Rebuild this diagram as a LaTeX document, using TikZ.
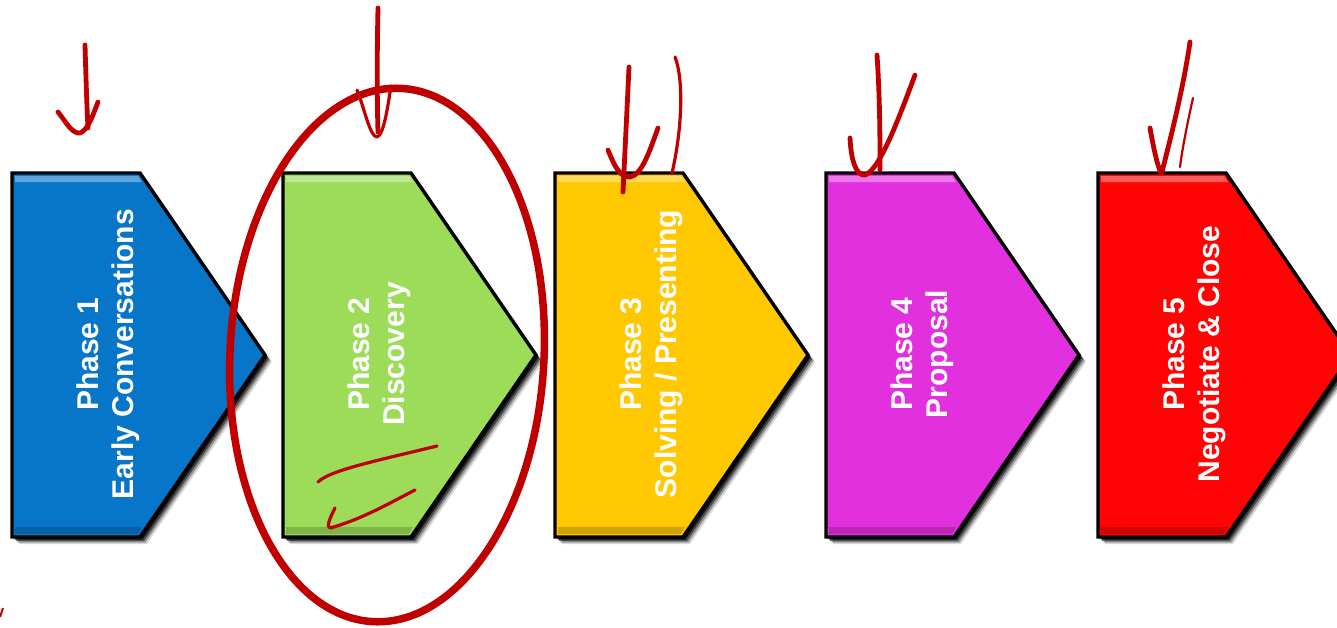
\documentclass[tikz,border=0pt]{standalone}
\usepackage{fontspec}
\setmainfont{Liberation Sans}

\definecolor{pblue}{RGB}{8,118,200}
\definecolor{pgreen}{RGB}{156,220,88}
\definecolor{pyellow}{RGB}{255,200,0}
\definecolor{pmagenta}{RGB}{226,48,222}
\definecolor{pred}{RGB}{255,4,4}
\definecolor{inkred}{RGB}{192,0,0}

% one chevron: #1 left x, #2 fill colour, #3 node name, #4 label
\newcommand\phasechevron[4]{%
  % soft drop shadow
  \foreach \d/\o in {7/0.15,5.5/0.3,4/0.5,2.5/0.75}{%
    \fill[black, opacity=\o, shift={(\d,\d)}]
      (#1,173) -- (#1+128,173) -- (#1+253,355) -- (#1+128,537) -- (#1,537) -- cycle;
  }
  \fill[#2] (#1,173) -- (#1+128,173) -- (#1+253,355) -- (#1+128,537) -- (#1,537) -- cycle;
  % bevel: light top rim, darker bottom rim
  \fill[white, opacity=0.35] (#1+3,176) -- (#1+126,176) -- (#1+130,182) -- (#1+3,182) -- cycle;
  \fill[black, opacity=0.18] (#1+3,527) -- (#1+130,527) -- (#1+126,534) -- (#1+3,534) -- cycle;
  \draw[chevronedge] (#1,173) -- (#1+128,173) -- (#1+253,355) -- (#1+128,537) -- (#1,537) -- cycle;
  \node[phasetext] (#3) at (#1+96,354) {#4};
}

\begin{document}
\begin{tikzpicture}[x=1pt,y=-1pt,
  chevronedge/.style={draw=black, line width=3.4pt, line join=miter},
  phasetext/.style={text=white, font=\bfseries\fontsize{30}{35}\selectfont,
                    align=center, rotate=90, inner sep=0pt},
  ink/.style={draw=inkred, line cap=round, line join=round, line width=4.8pt},
  thinink/.style={ink, line width=3.2pt},
]
\useasboundingbox (0,0) rectangle (1337,627);
\fill[white] (0,0) rectangle (1337,627);

\begin{scope}
\clip (0,0) rectangle (1337,627);
\phasechevron{12}{pblue}{p1}{Phase 1\\Early Conversations}
\phasechevron{283}{pgreen}{p2}{Phase 2\\Discovery}
\phasechevron{555}{pyellow}{p3}{Phase 3\\Solving / Presenting}
\phasechevron{826}{pmagenta}{p4}{Phase 4\\Proposal}
\phasechevron{1098}{pred}{p5}{Phase 5\\Negotiate \& Close}
\end{scope}

% ring round the second phase
\draw[inkred, line width=7.5pt, rotate around={-3:(387,355)}]
  (387,355) ellipse [x radius=157, y radius=267];

% marks above the chevrons
\draw[ink] (85,45) .. controls (86,80) and (87,110) .. (88,128);
\draw[ink] (58,112) .. controls (66,122) and (72,134) .. (80,133)
           .. controls (88,130) and (93,115) .. (98,102);

\draw[ink] (378,8) .. controls (377,50) and (377,100) .. (378,132);
\draw[thinink] (357,90) .. controls (365,110) and (370,137) .. (377,137)
               .. controls (384,135) and (388,105) .. (391,86);

\draw[ink] (629,67) .. controls (627,110) and (625,150) .. (623,192);
\draw[ink] (608,150) .. controls (614,165) and (620,178) .. (630,177)
           .. controls (642,175) and (650,150) .. (658,128);
\draw[thinink] (675,57) .. controls (684,80) and (682,130) .. (672,173);

\draw[ink] (877,55) .. controls (880,100) and (880,140) .. (880,170);
\draw[ink] (850,138) .. controls (851,160) and (856,176) .. (865,175)
           .. controls (880,170) and (900,115) .. (915,75);

\draw[ink] (1190,42) .. controls (1183,90) and (1170,140) .. (1162,172);
\draw[ink] (1150,128) .. controls (1153,145) and (1157,165) .. (1161,173);
\draw[inkred, line cap=round, line width=2.2pt] (1193,98) .. controls (1188,120) and (1182,150) .. (1180,167);

% strokes inside the second phase
\draw[thinink] (318,482) .. controls (330,470) and (380,460) .. (437,446);
\draw[thinink] (335,508) .. controls (330,518) and (326,527) .. (330,528)
               .. controls (360,520) and (390,503) .. (415,490);

\draw[inkred, line width=2pt] (0,617) -- (3,608);
\end{tikzpicture}
\end{document}
